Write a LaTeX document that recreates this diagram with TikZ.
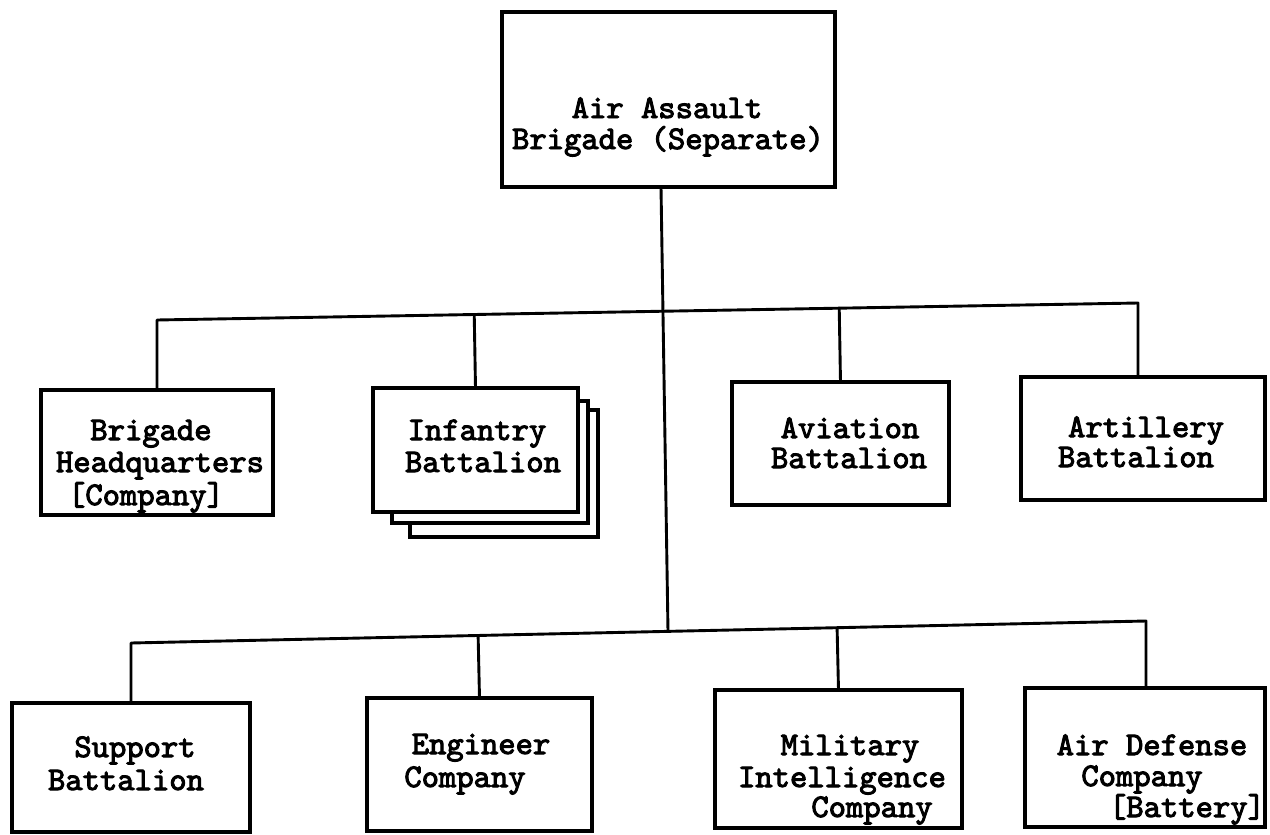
\documentclass[tikz,border=0pt]{standalone}
\usepackage{fontspec}
\newfontfamily\twfont{lmmono10-regular}[Extension=.otf, FakeBold=3]
\usetikzlibrary{calc}
\begin{document}
\begin{tikzpicture}[x=1pt,y=-1pt,
  box/.style={draw, line width=3.3pt, inner sep=0pt, outer sep=0pt, fill=white},
  txt/.style={inner sep=0pt, anchor=base, font=\twfont\fontsize{33}{31}\selectfont},
  link/.style={line width=2.9pt, line cap=round, line join=round}]
\useasboundingbox[fill=white] (0,0) rectangle (1270,835);

% boxes
\node[box, minimum width=333pt, minimum height=175pt] (top) at (668.5,99.5) {};
\node[box, minimum width=232pt, minimum height=125pt] (bhq) at (157,452.5) {};
\node[box, minimum width=188pt, minimum height=127pt] (infC) at (504,473.5) {};
\node[box, minimum width=196pt, minimum height=122pt] (infB) at (490,462) {};
\node[box, minimum width=205pt, minimum height=124pt] (inf) at (475.5,450) {};
\node[box, minimum width=217pt, minimum height=123pt] (avi) at (840.5,443.5) {};
\node[box, minimum width=244pt, minimum height=123pt] (art) at (1143,438.5) {};
\node[box, minimum width=238pt, minimum height=129pt] (sup) at (131,767.5) {};
\node[box, minimum width=225pt, minimum height=133pt] (eng) at (479.5,764.5) {};
\node[box, minimum width=247pt, minimum height=138pt] (mil) at (838.5,759) {};
\node[box, minimum width=240pt, minimum height=139pt] (ad) at (1145,757.5) {};

% bus coordinates
\coordinate (ub1) at (157,320);
\coordinate (ub2) at (1138,303);
\coordinate (lb1) at (131,643);
\coordinate (lb2) at (1146,621);
\coordinate (mj) at (668,631.4);

% connectors
\draw[link] ([xshift=-7.5pt]top.south) -- (mj);
\draw[link] (bhq.north) -- (ub1) -- (ub2) -- (ub2 |- art.north);
\draw[link] (inf.north) -- ($(ub1)!(inf.north)!(ub2)$);
\draw[link] (avi.north) -- ($(ub1)!(avi.north)!(ub2)$);
\draw[link] (sup.north) -- (lb1) -- (lb2) -- (lb2 |- ad.north);
\draw[link] (eng.north) -- ($(lb1)!(eng.north)!(lb2)$);
\draw[link] (mil.north) -- ($(lb1)!(mil.north)!(lb2)$);

% texts
\node[txt] (t1a) at (667,118) {Air Assault};
\node[txt] (t1b) at (668,149) {Brigade (Separate)};
\node[txt] (t2a) at (151,440) {Brigade};
\node[txt] (t2b) at (160,472) {Headquarters};
\node[txt] (t2c) at (146,505) {[Company]};
\node[txt] (t3a) at (477,440) {Infantry};
\node[txt] (t3b) at (483,472) {Battalion};
\node[txt] (t4a) at (850,438) {Aviation};
\node[txt] (t4b) at (849,468) {Battalion};
\node[txt] (t5a) at (1146,437) {Artillery};
\node[txt] (t5b) at (1136,467) {Battalion};
\node[txt] (t6a) at (135,757) {Support};
\node[txt] (t6b) at (126,790) {Battalion};
\node[txt] (t7a) at (481,754) {Engineer};
\node[txt] (t7b) at (465,787) {Company};
\node[txt] (t8a) at (850,755) {Military};
\node[txt] (t8b) at (842,787) {Intelligence};
\node[txt] (t8c) at (872,817) {Company};
\node[txt] (t9a) at (1152,755) {Air Defense};
\node[txt] (t9b) at (1142,786) {Company};
\node[txt] (t9c) at (1187,817) {[Battery]};
\end{tikzpicture}
\end{document}
